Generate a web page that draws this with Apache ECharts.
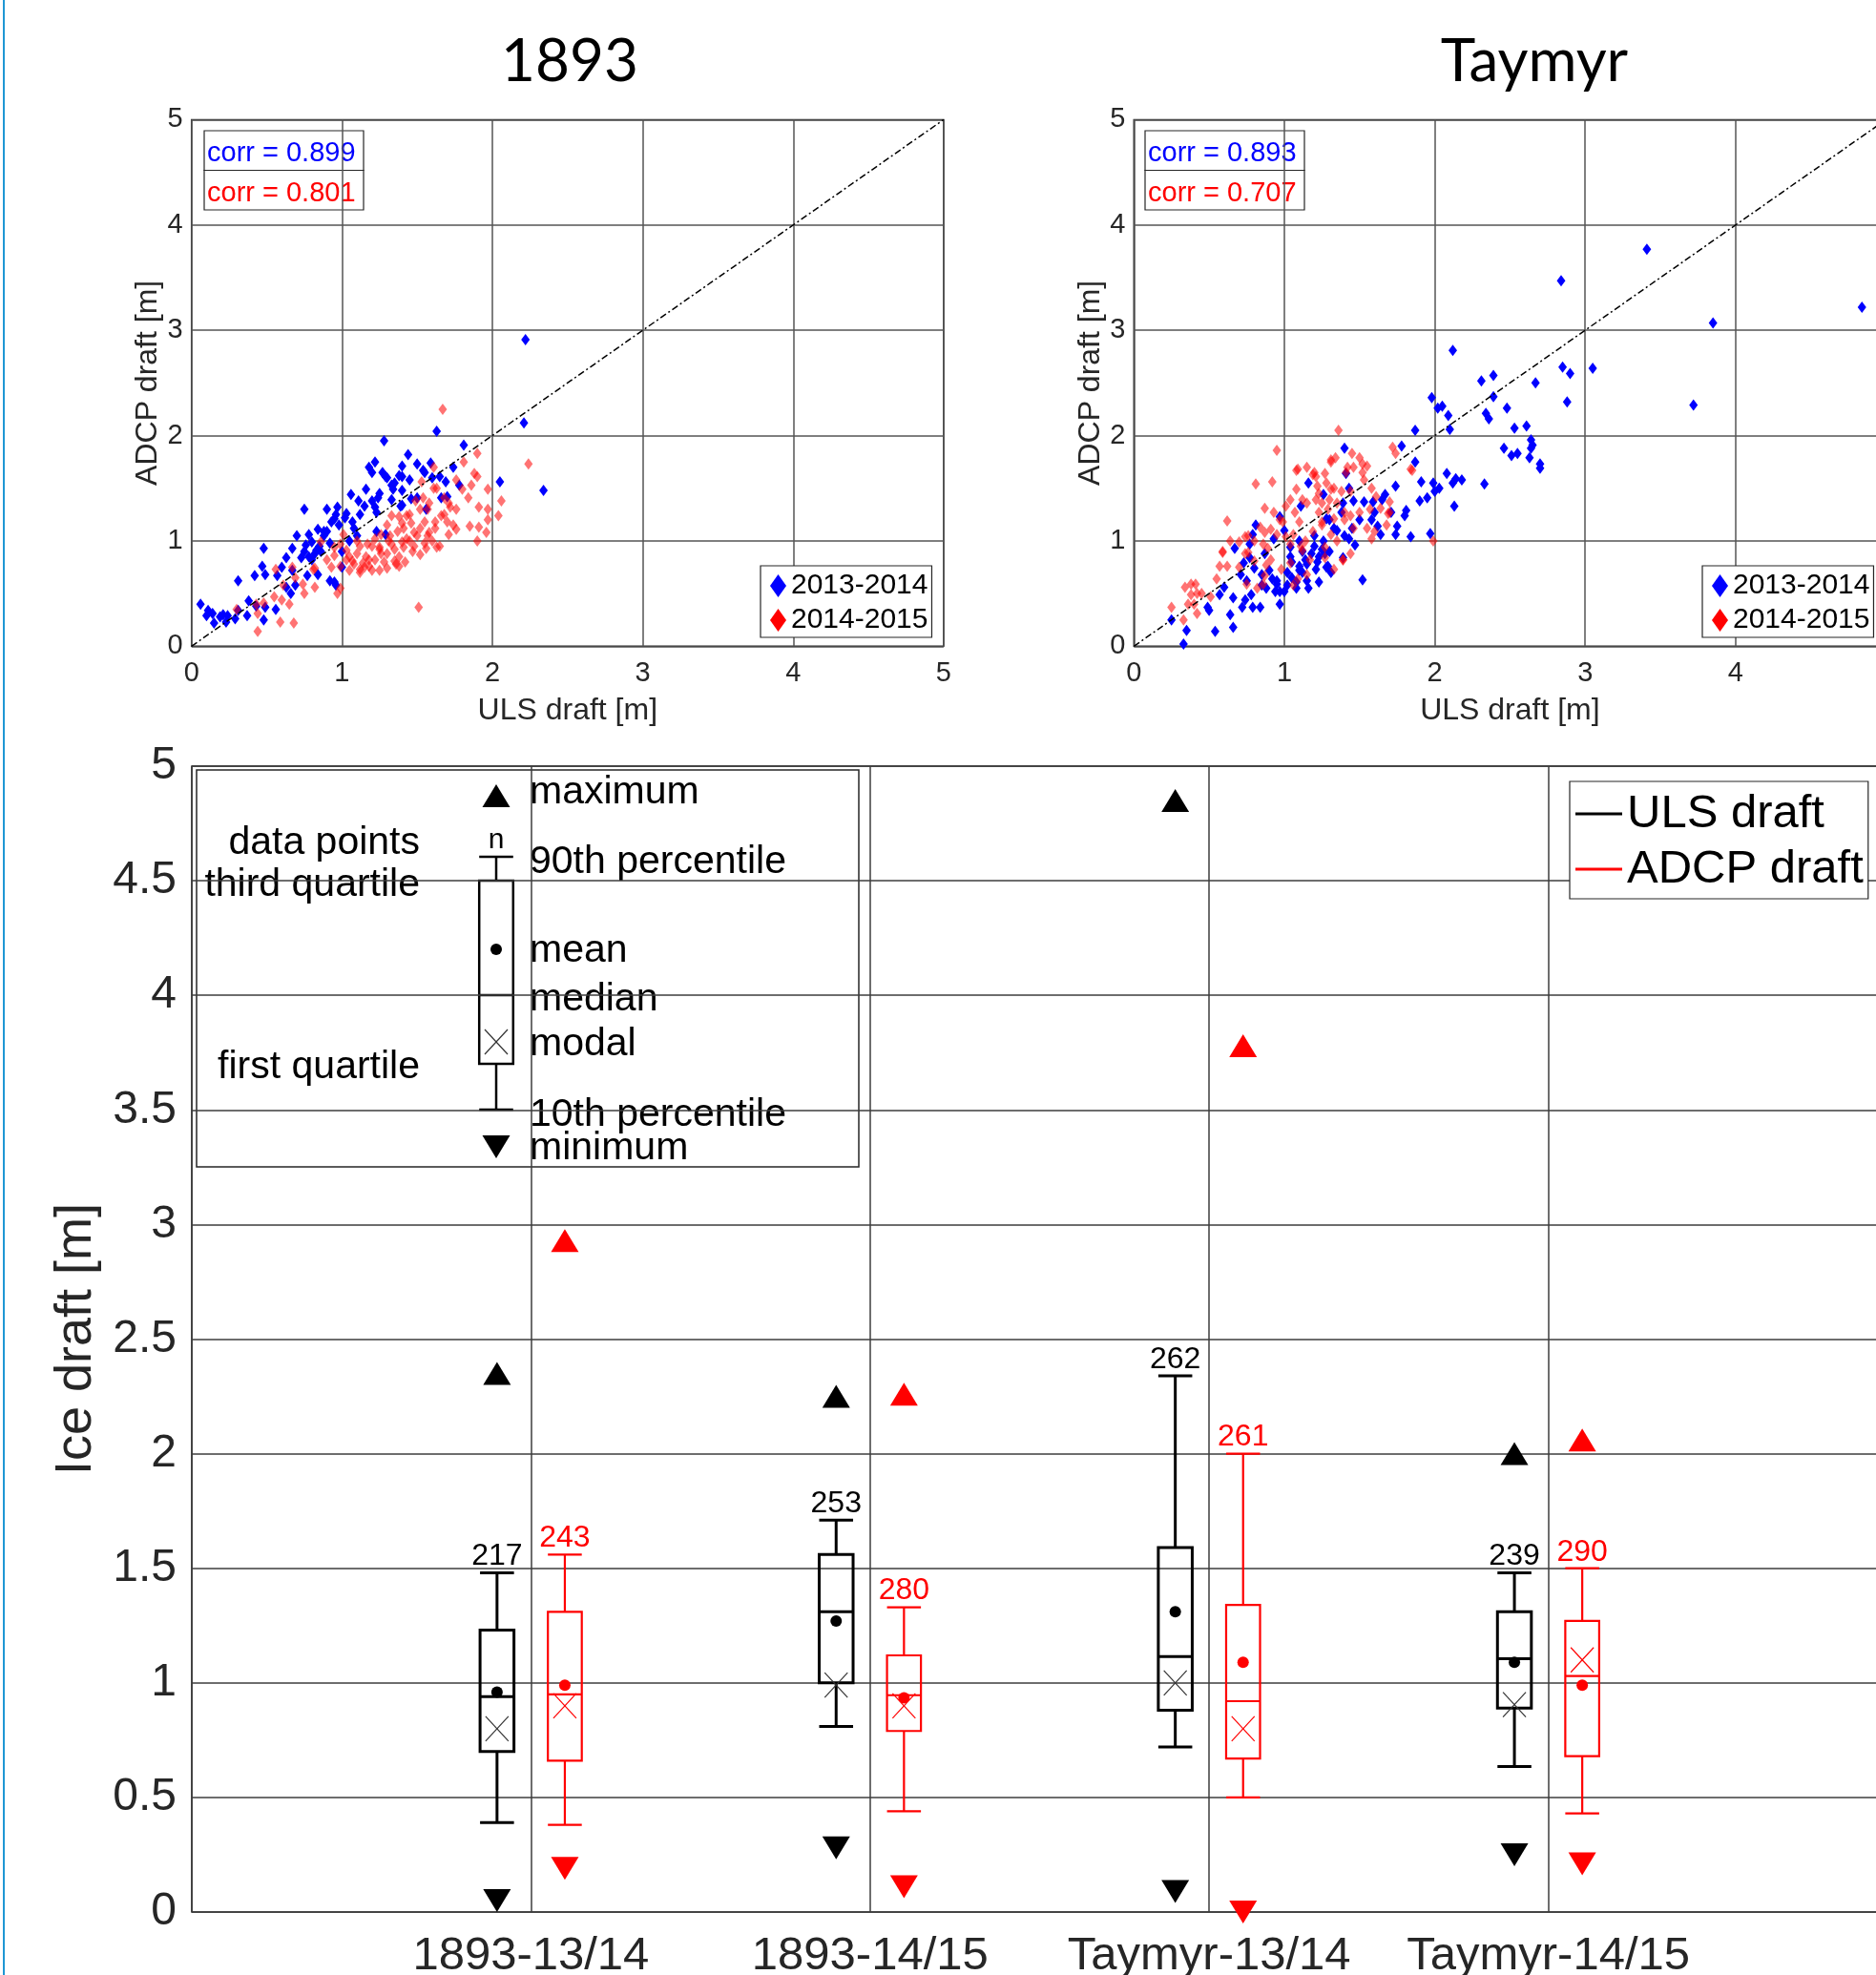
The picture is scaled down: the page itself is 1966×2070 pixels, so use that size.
<!DOCTYPE html>
<html>
<head>
<meta charset="utf-8">
<script src="https://cdn.jsdelivr.net/npm/echarts@6/dist/echarts.min.js"></script>
<style>
  html, body { margin: 0; padding: 0; background: #fff; }
  #main { width: 1966px; height: 2070px; }
</style>
</head>
<body>
<div id="main"></div>
<script>
// ---------- scatter data: [ULS draft, ADCP draft] ----------
var blue1893 = [
  [2.22,2.91],[2.21,2.12],[2.34,1.48],[2.05,1.56],[1.81,1.91],[1.63,2.04],[1.28,1.95],[1.74,1.70],[1.59,1.74],[1.44,1.82],
  [1.22,1.75],[1.40,1.71],[1.50,1.73],[1.54,1.67],[1.27,1.65],[1.29,1.61],[1.40,1.61],[1.65,1.61],[1.69,1.56],[1.78,1.53],
  [1.33,1.53],[1.34,1.49],[1.24,1.41],[1.46,1.40],[1.66,1.41],[1.70,1.42],[1.33,1.39],[1.39,1.33],[1.56,1.30],[1.22,1.32],
  [1.50,1.41],[1.23,1.09],[1.29,1.06],[1.23,1.27],[1.18,1.70],[1.16,1.49],[1.06,1.44],[1.11,1.38],[1.15,1.33],[0.90,1.30],
  [0.97,1.32],[0.75,1.30],[1.03,1.26],[0.95,1.21],[1.07,1.18],[0.84,1.11],[0.90,1.09],[0.78,1.06],[0.70,1.05],[0.80,0.99],
  [0.76,0.96],[0.67,0.93],[0.83,0.91],[0.48,0.93],[0.63,0.84],[0.73,0.84],[0.47,0.76],[0.60,0.75],[0.42,0.67],[0.49,0.68],
  [0.67,0.72],[0.77,0.67],[0.84,0.68],[0.95,0.61],[0.31,0.62],[0.69,0.58],[0.63,0.56],[0.66,0.50],[0.38,0.43],[0.43,0.38],
  [0.49,0.37],[0.56,0.35],[0.06,0.40],[0.11,0.34],[0.14,0.31],[0.19,0.28],[0.24,0.29],[0.29,0.26],[0.31,0.34],[0.15,0.22],
  [0.23,0.23],[0.37,0.29],[0.48,0.25],[0.21,0.30],[0.10,0.29],[0.75,0.90],[0.80,0.82],[0.86,0.90],[0.88,1.09],[0.93,1.18],
  [0.57,0.67],[1.05,1.00],[1.10,1.05],[1.00,0.90],[1.08,1.12],[0.98,1.15],[0.92,0.98],[0.88,1.05],[1.12,1.25],[1.02,1.22],
  [0.96,1.25],[1.20,1.38],[1.25,1.45],[1.30,1.60],[1.35,1.55],[1.38,1.62],[1.40,1.48],[1.45,1.58],[1.55,1.65],[1.60,1.60],
  [1.20,1.65],[0.92,0.62],[0.96,0.58],[1.00,0.75],[0.85,0.95],[0.82,0.88],[0.78,0.85],[1.40,1.34]
];
var red1893 = [
  [1.67,2.25],[2.24,1.73],[1.90,1.83],[1.81,1.75],[1.88,1.64],[1.90,1.61],[1.61,1.70],[1.76,1.58],[1.53,1.56],[1.97,1.49],
  [2.06,1.38],[1.86,1.53],[1.80,1.49],[1.84,1.41],[1.61,1.50],[1.54,1.41],[1.57,1.30],[1.72,1.32],[1.76,1.30],[1.91,1.32],
  [1.97,1.30],[2.04,1.24],[1.97,1.20],[1.66,1.24],[1.49,1.38],[1.43,1.24],[1.38,1.23],[1.71,1.36],[1.85,1.14],[1.91,1.13],
  [1.96,1.08],[1.90,1.00],[1.74,1.15],[1.76,1.11],[1.71,1.06],[1.62,1.12],[1.55,1.18],[1.52,1.12],[1.48,1.08],[1.57,1.05],
  [1.63,0.94],[1.56,0.93],[1.52,0.87],[1.47,0.90],[1.41,0.94],[1.33,0.97],[1.38,0.76],[1.35,0.81],[1.26,0.88],[1.22,0.82],
  [1.43,1.02],[1.37,1.09],[1.30,1.15],[1.33,1.24],[1.40,1.17],[1.46,1.17],[1.51,0.37],[1.26,1.06],[1.31,1.00],[1.25,0.94],
  [1.41,1.12],[1.68,1.41],[1.63,1.50],[0.99,0.97],[1.03,0.91],[1.10,0.88],[1.16,0.85],[1.18,0.76],[1.12,0.73],[1.05,0.72],
  [0.99,0.76],[0.93,0.75],[0.90,0.82],[0.86,0.99],[0.81,0.73],[0.95,0.94],[0.99,0.55],[0.97,0.50],[1.01,1.06],[1.10,1.00],
  [1.17,0.97],[1.14,0.79],[1.07,0.81],[1.03,0.82],[0.56,0.73],[0.67,0.75],[0.74,0.59],[0.75,0.50],[0.61,0.58],[0.55,0.47],
  [0.60,0.44],[0.65,0.40],[0.43,0.40],[0.48,0.41],[0.44,0.31],[0.30,0.35],[0.59,0.23],[0.68,0.22],[0.44,0.14],[0.82,0.56],
  [0.69,0.65],[0.82,0.74],[1.20,0.95],[1.25,0.92],[1.30,0.88],[1.18,0.82],[1.28,0.80],[1.35,0.92],[1.40,0.99],[1.45,1.00],
  [1.50,1.05],[1.55,0.98],[1.60,1.00],[1.65,0.95],[1.22,1.02],[1.12,0.95],[1.08,0.78],[1.15,0.75],[1.05,0.85],[0.95,0.86],
  [1.32,1.05],[1.38,0.85],[1.42,0.80],[1.48,0.95],[1.58,1.08],[1.62,1.18],[1.68,1.25],[1.70,1.18],[1.45,1.25],[1.52,1.30],
  [1.58,1.36],[1.36,0.78],[1.25,0.72],[1.20,0.72],[1.12,0.70],[1.30,0.74]
];
var blueTaymyr = [
  [3.41,3.77],[2.84,3.47],[4.84,3.22],[3.85,3.07],[2.12,2.81],[2.85,2.65],[2.90,2.59],[3.05,2.64],[3.72,2.29],[2.88,2.32],
  [2.31,2.52],[2.39,2.57],[2.67,2.50],[2.39,2.37],[2.48,2.26],[2.02,2.26],[2.05,2.28],[2.09,2.19],[2.34,2.21],[2.36,2.16],
  [2.10,2.06],[2.53,2.07],[2.61,2.09],[2.64,1.96],[2.65,1.91],[2.64,1.88],[2.46,1.88],[2.51,1.81],[2.55,1.83],[2.63,1.79],
  [2.70,1.73],[2.70,1.69],[1.98,2.36],[2.08,1.64],[2.14,1.59],[2.18,1.58],[2.12,1.55],[2.33,1.54],[2.13,1.33],[1.99,1.55],
  [2.00,1.47],[2.03,1.50],[1.40,1.88],[1.78,1.90],[1.87,2.05],[1.87,1.75],[1.41,1.64],[1.74,1.52],[1.91,1.56],[1.95,1.41],
  [1.90,1.38],[1.67,1.44],[1.65,1.39],[1.81,1.29],[1.80,1.24],[1.71,1.27],[1.75,1.14],[1.74,1.06],[1.84,1.04],[1.97,1.07],
  [1.59,1.37],[1.60,1.27],[1.58,1.20],[1.62,1.14],[1.64,1.06],[1.50,1.20],[1.46,1.38],[1.43,1.50],[1.53,1.37],[1.47,0.96],
  [1.43,1.02],[1.52,0.63],[1.26,1.44],[1.39,1.36],[1.38,1.27],[1.33,1.12],[1.28,1.21],[1.26,1.00],[1.27,0.88],[1.23,0.85],
  [1.29,0.76],[1.31,0.70],[1.21,0.73],[1.39,0.84],[1.23,0.61],[0.81,1.15],[0.67,0.93],[0.73,0.79],[0.77,0.84],[0.80,0.74],
  [0.71,0.68],[0.60,0.56],[0.57,0.49],[0.66,0.46],[0.74,0.44],[0.72,0.37],[0.79,0.37],[0.84,0.37],[0.78,0.49],[0.85,0.58],
  [0.88,0.55],[0.92,0.64],[0.95,0.59],[0.97,0.52],[0.94,0.52],[0.97,0.40],[1.02,0.58],[1.02,0.70],[1.08,0.61],[1.10,0.76],
  [1.12,0.70],[1.16,0.55],[1.14,0.82],[1.04,0.85],[1.04,0.94],[0.93,1.02],[0.87,0.88],[0.49,0.37],[0.50,0.34],[0.64,0.30],
  [0.54,0.14],[0.66,0.18],[0.35,0.15],[0.25,0.25],[0.33,0.02],[1.16,1.55],[1.11,1.33],[0.97,1.23],[0.79,1.06],[0.77,0.97],
  [1.05,0.65],[1.10,0.72],[1.15,0.78],[1.18,0.88],[1.20,0.95],[1.25,0.92],[1.30,0.90],[1.22,0.80],[1.28,0.75],[1.15,0.62],
  [1.08,0.55],[1.00,0.52],[0.95,0.62],[1.05,0.80],[1.12,0.90],[1.35,1.10],[1.40,1.05],[1.45,1.12],[1.30,1.20],[1.20,1.05],
  [0.90,0.72],[0.85,0.68],[0.75,0.62],[1.00,1.10],[1.10,1.00]
];
var redTaymyr = [
  [0.81,1.54],[0.92,1.56],[0.62,1.19],[0.87,1.31],[0.93,1.27],[1.01,1.33],[1.04,1.39],[1.08,1.49],[1.09,1.68],[1.15,1.70],
  [1.12,1.39],[0.97,1.20],[0.91,1.11],[0.87,1.08],[0.80,1.00],[0.86,0.97],[0.89,0.93],[0.95,1.06],[1.06,1.06],[1.10,1.18],
  [1.14,1.00],[1.04,0.97],[0.76,1.05],[0.70,0.99],[0.59,0.90],[0.57,0.76],[0.62,0.76],[0.55,0.64],[0.51,0.47],[0.42,0.50],
  [0.38,0.59],[0.34,0.56],[0.38,0.49],[0.25,0.37],[0.33,0.25],[0.36,0.40],[0.42,0.31],[0.40,0.40],[0.75,0.59],[0.82,0.55],
  [0.87,0.67],[0.80,0.81],[0.74,0.88],[0.70,0.75],[0.91,0.82],[1.04,0.79],[1.09,0.64],[1.06,0.58],[1.12,0.91],[1.17,0.82],
  [1.36,2.05],[1.34,1.79],[1.31,1.75],[1.45,1.83],[1.50,1.79],[1.52,1.73],[1.55,1.71],[1.46,1.70],[1.41,1.65],[1.52,1.65],
  [1.72,1.89],[1.74,1.83],[1.84,1.68],[1.20,1.65],[1.21,1.61],[1.28,1.55],[1.33,1.50],[1.38,1.47],[1.44,1.47],[1.53,1.58],
  [1.58,1.50],[1.61,1.42],[1.70,1.37],[1.69,1.26],[1.68,1.15],[1.57,1.30],[1.50,1.27],[1.44,1.24],[1.40,1.27],[1.35,1.36],
  [1.30,1.39],[1.25,1.36],[1.21,1.39],[1.23,1.27],[1.29,1.30],[1.33,1.21],[1.40,1.20],[1.46,1.12],[1.55,1.12],[1.58,1.02],
  [1.44,0.88],[1.39,0.82],[1.33,0.73],[1.27,0.94],[1.31,1.06],[1.25,1.15],[1.99,1.00],[1.22,1.52],[1.27,1.64],[0.95,1.86],
  [1.08,1.67],[1.31,1.77],[1.42,1.70],[1.19,1.63],[1.85,1.67],[1.70,1.27],[1.60,1.09],[1.64,1.31],[0.45,0.50],[0.41,0.59],
  [0.59,0.89],[0.64,1.00],[0.74,1.04],[0.84,1.13],[0.99,1.18],[1.07,1.27],[1.15,1.36],[1.23,1.45],[1.31,1.49],[1.01,1.04],
  [1.11,0.95],[1.19,1.09],[1.25,1.18],[1.35,1.00],[1.39,0.82],[1.27,0.84],[1.15,0.68],[0.98,0.73],[0.88,0.77],[0.76,0.89],
  [0.86,0.59]
];
var diagonal = [[0, 0], [5, 5]];
var corr1893 = ['0.899', '0.801'];
var corrTaymyr = ['0.893', '0.707'];

// ---------- box plot statistics ----------
var categories = ['1893-13/14', '1893-14/15', 'Taymyr-13/14', 'Taymyr-14/15'];
var ulsMax    = [2.35, 2.25, 4.85, 2.00];
var ulsP90    = [1.48, 1.71, 2.34, 1.48];
var ulsQ3     = [1.23, 1.56, 1.59, 1.31];
var ulsMean   = [0.96, 1.27, 1.31, 1.09];
var ulsMedian = [0.94, 1.31, 1.115, 1.105];
var ulsModal  = [0.80, 0.99, 1.00, 0.905];
var ulsQ1     = [0.70, 1.00, 0.88, 0.89];
var ulsP10    = [0.39, 0.81, 0.72, 0.635];
var ulsMin    = [0.05, 0.28, 0.09, 0.25];
var ulsN      = [217, 253, 262, 239];

var adcpMax    = [2.93, 2.26, 3.78, 2.06];
var adcpP90    = [1.56, 1.33, 2.00, 1.50];
var adcpQ3     = [1.31, 1.12, 1.34, 1.27];
var adcpMean   = [0.99, 0.935, 1.09, 0.99];
var adcpMedian = [0.95, 0.946, 0.92, 1.03];
var adcpModal  = [0.90, 0.90, 0.80, 1.10];
var adcpQ1     = [0.66, 0.79, 0.67, 0.68];
var adcpP10    = [0.38, 0.44, 0.50, 0.43];
var adcpMin    = [0.19, 0.11, 0.00, 0.21];
var adcpN      = [243, 280, 261, 290];

var yTicks = [0, 0.5, 1, 1.5, 2, 2.5, 3, 3.5, 4, 4.5, 5];

var FONT = '"Liberation Sans", Arial, sans-serif';
var TXT = '#262626';
var BLUE = '#0000ff';
var RED = '#ff0000';
var OFF = 0.1; // ULS left of category, ADCP right

function pos(i, side) { return i + 1 + side * OFF; }

function boxData(p10, q1, med, q3, p90, modal, n, side) {
  return categories.map(function (c, i) {
    return [pos(i, side), p10[i], q1[i], med[i], q3[i], p90[i], modal[i], n[i]];
  });
}
function pointData(vals, side) {
  return vals.map(function (v, i) { return [pos(i, side), v]; });
}

function boxRender(color, lw, xColor) {
  return function (params, api) {
    var x = api.value(0);
    var p10 = api.coord([x, api.value(1)]);
    var q1 = api.coord([x, api.value(2)]);
    var med = api.coord([x, api.value(3)]);
    var q3 = api.coord([x, api.value(4)]);
    var p90 = api.coord([x, api.value(5)]);
    var mo = api.coord([x, api.value(6)]);
    var hw = api.size([0.1, 0])[0] / 2;
    var cx = p10[0];
    var st = { stroke: color, lineWidth: lw, fill: 'none' };
    var xs = { stroke: xColor, lineWidth: 1.2 };
    return {
      type: 'group',
      children: [
        { type: 'line', shape: { x1: cx, y1: q3[1], x2: cx, y2: p90[1] }, style: st },
        { type: 'line', shape: { x1: cx - hw, y1: p90[1], x2: cx + hw, y2: p90[1] }, style: st },
        { type: 'line', shape: { x1: cx, y1: q1[1], x2: cx, y2: p10[1] }, style: st },
        { type: 'line', shape: { x1: cx - hw, y1: p10[1], x2: cx + hw, y2: p10[1] }, style: st },
        { type: 'rect', shape: { x: cx - hw, y: q3[1], width: 2 * hw, height: q1[1] - q3[1] }, style: st },
        { type: 'line', shape: { x1: cx - hw, y1: med[1], x2: cx + hw, y2: med[1] }, style: st },
        { type: 'line', shape: { x1: cx - 12, y1: mo[1] - 13, x2: cx + 12, y2: mo[1] + 13 }, style: xs },
        { type: 'line', shape: { x1: cx + 12, y1: mo[1] - 13, x2: cx - 12, y2: mo[1] + 13 }, style: xs },
        { type: 'text', x: cx, y: p90[1] - 1,
          style: { text: String(api.value(7)), fill: color, fontSize: 32, fontFamily: FONT,
                   textAlign: 'center', textVerticalAlign: 'bottom', align: 'center', verticalAlign: 'bottom' } }
      ]
    };
  };
}

var splitScatter = { show: true, lineStyle: { color: '#555', width: 1.5 } };

function scatterX(gi) {
  return {
    gridIndex: gi, type: 'value', min: 0, max: 5, interval: 1,
    name: 'ULS draft [m]', nameLocation: 'middle', nameGap: 52,
    nameTextStyle: { fontSize: 32, color: TXT, fontFamily: FONT },
    axisLine: { show: false }, axisTick: { show: false },
    axisLabel: { fontSize: 29, color: TXT, fontFamily: FONT, margin: 14, showMinLabel: true, showMaxLabel: true },
    splitLine: splitScatter
  };
}
function scatterY(gi) {
  return {
    gridIndex: gi, type: 'value', min: 0, max: 5, interval: 1,
    name: 'ADCP draft [m]', nameLocation: 'middle', nameGap: 27,
    nameTextStyle: { fontSize: 32, color: TXT, fontFamily: FONT },
    axisLine: { show: false }, axisTick: { show: false },
    axisLabel: { fontSize: 29, color: TXT, fontFamily: FONT, margin: 9, showMinLabel: true, showMaxLabel: true },
    splitLine: splitScatter
  };
}

function scatterSeries(name, data, gi, color, opacity) {
  return {
    type: 'scatter', name: name, xAxisIndex: gi, yAxisIndex: gi, data: data,
    symbol: 'diamond', symbolSize: [9, 12], clip: false, z: 3,
    itemStyle: { color: color, opacity: opacity }
  };
}
function diagSeries(gi) {
  return {
    type: 'line', xAxisIndex: gi, yAxisIndex: gi, data: diagonal, symbol: 'none', silent: true, z: 6,
    lineStyle: { color: '#000', width: 1.5, type: [7, 3, 2, 3] }
  };
}

function scatterLegend(left) {
  return {
    left: left, top: 593, orient: 'vertical', selectedMode: false,
    icon: 'diamond', itemWidth: 17, itemHeight: 24, itemGap: 0,
    padding: [3, 4, 0, 10], borderColor: TXT, borderWidth: 1.2, backgroundColor: '#fff',
    textStyle: { fontSize: 30, color: '#000', fontFamily: FONT, lineHeight: 36 },
    data: [
      { name: '2013-2014', itemStyle: { color: BLUE, opacity: 1 } },
      { name: '2014-2015', itemStyle: { color: RED, opacity: 1 } }
    ]
  };
}

function corrBox(left, vals) {
  var cells = [];
  [BLUE, RED].forEach(function (c, k) {
    cells.push({ type: 'rect', shape: { x: left, y: 137 + k * 41.5, width: 167, height: 41.5 },
      style: { fill: '#fff', stroke: TXT, lineWidth: 1.2 } });
    cells.push({ type: 'text', x: left + 3, y: 161 + k * 41.5,
      style: { text: 'corr = ' + vals[k], fill: c, fontSize: 29, fontFamily: FONT,
               textVerticalAlign: 'middle', verticalAlign: 'middle' } });
  });
  return { type: 'group', z: 20, children: cells };
}

// explanatory legend of the box glyph
function legendText(x, y, s, align, size) {
  return { type: 'text', x: x, y: y + 4,
    style: { text: s, fill: '#000', fontSize: size || 41, fontFamily: FONT,
             textAlign: align || 'left', align: align || 'left',
             textVerticalAlign: 'middle', verticalAlign: 'middle' } };
}
var gx = 520, ghw = 17.8, gst = { stroke: '#000', lineWidth: 2.5, fill: 'none' };
var glyphLegend = {
  type: 'group', z: 30,
  children: [
    { type: 'rect', shape: { x: 206, y: 807, width: 694, height: 416 }, style: { fill: '#fff', stroke: TXT, lineWidth: 1.5 } },
    { type: 'polygon', shape: { points: [[gx - 14.5, 846], [gx + 14.5, 846], [gx, 822]] }, style: { fill: '#000' } },
    { type: 'line', shape: { x1: gx - ghw, y1: 898, x2: gx + ghw, y2: 898 }, style: gst },
    { type: 'line', shape: { x1: gx, y1: 898, x2: gx, y2: 923 }, style: gst },
    { type: 'rect', shape: { x: gx - ghw, y: 923, width: 2 * ghw, height: 192 }, style: gst },
    { type: 'circle', shape: { cx: gx, cy: 995, r: 6 }, style: { fill: '#000' } },
    { type: 'line', shape: { x1: gx - ghw, y1: 1043, x2: gx + ghw, y2: 1043 }, style: gst },
    { type: 'line', shape: { x1: gx - 12, y1: 1079, x2: gx + 12, y2: 1105 }, style: { stroke: '#333', lineWidth: 1.2 } },
    { type: 'line', shape: { x1: gx + 12, y1: 1079, x2: gx - 12, y2: 1105 }, style: { stroke: '#333', lineWidth: 1.2 } },
    { type: 'line', shape: { x1: gx, y1: 1115, x2: gx, y2: 1163 }, style: gst },
    { type: 'line', shape: { x1: gx - ghw, y1: 1163, x2: gx + ghw, y2: 1163 }, style: gst },
    { type: 'polygon', shape: { points: [[gx - 14.5, 1190], [gx + 14.5, 1190], [gx, 1214]] }, style: { fill: '#000' } },
    legendText(gx, 877, 'n', 'center', 30),
    legendText(555, 827, 'maximum'),
    legendText(555, 900, '90th percentile'),
    legendText(555, 993, 'mean'),
    legendText(555, 1044, 'median'),
    legendText(555, 1091, 'modal'),
    legendText(555, 1165, '10th percentile'),
    legendText(555, 1200, 'minimum'),
    legendText(440, 880, 'data points', 'right'),
    legendText(440, 924, 'third quartile', 'right'),
    legendText(440, 1115, 'first quartile', 'right')
  ]
};

function gridAt(left, top, width, height) {
  return { left: left, top: top, width: width, height: height, show: true, borderColor: TXT, borderWidth: 1.5,
           backgroundColor: 'transparent', containLabel: false, outerBoundsMode: 'none' };
}

var option = {
  animation: false,
  backgroundColor: '#fff',
  grid: [
    gridAt(200.7, 125.4, 788.2, 551.9),
    gridAt(1188.3, 125.4, 788.2, 551.9),
    gridAt(201, 803, 1777, 1201)
  ],
  xAxis: [
    scatterX(0), scatterX(1),
    {
      gridIndex: 2, type: 'value', min: 0, max: 5, interval: 1,
      axisLine: { show: false }, axisTick: { show: false },
      axisLabel: {
        fontSize: 49, color: TXT, fontFamily: FONT, margin: 22, showMinLabel: true, showMaxLabel: true,
        formatter: function (v) { return (v >= 1 && v <= categories.length) ? categories[v - 1] : ''; }
      },
      splitLine: { show: true, lineStyle: { color: '#3c3c3c', width: 1.5 } }
    }
  ],
  yAxis: [
    scatterY(0), scatterY(1),
    {
      gridIndex: 2, type: 'value', min: yTicks[0], max: yTicks[yTicks.length - 1], interval: 0.5,
      name: 'Ice draft [m]', nameLocation: 'middle', nameGap: 86,
      nameTextStyle: { fontSize: 54, color: TXT, fontFamily: FONT },
      axisLine: { show: false }, axisTick: { show: false },
      axisLabel: { fontSize: 48, color: TXT, fontFamily: FONT, margin: 16, showMinLabel: true, showMaxLabel: true },
      splitLine: { show: true, lineStyle: { color: '#3c3c3c', width: 1.5 } }
    }
  ],
  legend: [
    scatterLegend(797),
    scatterLegend(1784),
    {
      left: 1645, top: 819, orient: 'vertical', selectedMode: false,
      icon: 'rect', itemWidth: 49, itemHeight: 3, itemGap: 0,
      padding: [5, 5, 2, 6], borderColor: TXT, borderWidth: 1.2, backgroundColor: '#fff',
      textStyle: { fontSize: 49, color: '#000', fontFamily: FONT, lineHeight: 58 },
      data: [
        { name: 'ULS draft', itemStyle: { color: '#000' } },
        { name: 'ADCP draft', itemStyle: { color: RED } }
      ]
    }
  ],
  graphic: [
    { type: 'line', shape: { x1: 4, y1: 0, x2: 4, y2: 2070 }, style: { stroke: '#1f97d4', lineWidth: 2 } },
    { type: 'text', x: 597, y: 65, style: { text: '1893', fill: '#000', fontSize: 62, fontFamily: 'Lato, "Open Sans", sans-serif',
      textAlign: 'center', align: 'center', textVerticalAlign: 'middle', verticalAlign: 'middle' } },
    { type: 'text', x: 1608, y: 65, style: { text: 'Taymyr', fill: '#000', fontSize: 62, fontFamily: 'Lato, "Open Sans", sans-serif',
      textAlign: 'center', align: 'center', textVerticalAlign: 'middle', verticalAlign: 'middle' } },
    corrBox(214, corr1893),
    corrBox(1200, corrTaymyr),
    glyphLegend
  ],
  series: [
    scatterSeries('2013-2014', blue1893, 0, BLUE, 1),
    scatterSeries('2014-2015', red1893, 0, RED, 0.55),
    diagSeries(0),
    scatterSeries('2013-2014', blueTaymyr, 1, BLUE, 1),
    scatterSeries('2014-2015', redTaymyr, 1, RED, 0.55),
    diagSeries(1),
    {
      type: 'custom', name: 'ULS draft', xAxisIndex: 2, yAxisIndex: 2, z: 4,
      data: boxData(ulsP10, ulsQ1, ulsMedian, ulsQ3, ulsP90, ulsModal, ulsN, -1),
      encode: { x: 0, y: [1, 2, 3, 4, 5] },
      itemStyle: { color: '#000' },
      renderItem: boxRender('#000', 3, '#333')
    },
    {
      type: 'custom', name: 'ADCP draft', xAxisIndex: 2, yAxisIndex: 2, z: 4,
      data: boxData(adcpP10, adcpQ1, adcpMedian, adcpQ3, adcpP90, adcpModal, adcpN, 1),
      encode: { x: 0, y: [1, 2, 3, 4, 5] },
      itemStyle: { color: RED },
      renderItem: boxRender(RED, 2.2, RED)
    },
    { type: 'scatter', name: 'ulsMean', xAxisIndex: 2, yAxisIndex: 2, data: pointData(ulsMean, -1), symbol: 'circle', symbolSize: 12, itemStyle: { color: '#000', opacity: 1 }, z: 5 },
    { type: 'scatter', name: 'adcpMean', xAxisIndex: 2, yAxisIndex: 2, data: pointData(adcpMean, 1), symbol: 'circle', symbolSize: 12, itemStyle: { color: RED, opacity: 1 }, z: 5 },
    { type: 'scatter', name: 'ulsMax', xAxisIndex: 2, yAxisIndex: 2, data: pointData(ulsMax, -1), symbol: 'triangle', symbolSize: [29, 24], itemStyle: { color: '#000', opacity: 1 }, z: 5 },
    { type: 'scatter', name: 'adcpMax', xAxisIndex: 2, yAxisIndex: 2, data: pointData(adcpMax, 1), symbol: 'triangle', symbolSize: [29, 24], itemStyle: { color: RED, opacity: 1 }, z: 5 },
    { type: 'scatter', name: 'ulsMin', xAxisIndex: 2, yAxisIndex: 2, data: pointData(ulsMin, -1), symbol: 'triangle', symbolRotate: 180, symbolSize: [29, 24], clip: false, itemStyle: { color: '#000', opacity: 1 }, z: 5 },
    { type: 'scatter', name: 'adcpMin', xAxisIndex: 2, yAxisIndex: 2, data: pointData(adcpMin, 1), symbol: 'triangle', symbolRotate: 180, symbolSize: [29, 24], clip: false, itemStyle: { color: RED, opacity: 1 }, z: 5 }
  ]
};

var chart = echarts.init(document.getElementById('main'));
chart.setOption(option);
</script>
</body>
</html>
